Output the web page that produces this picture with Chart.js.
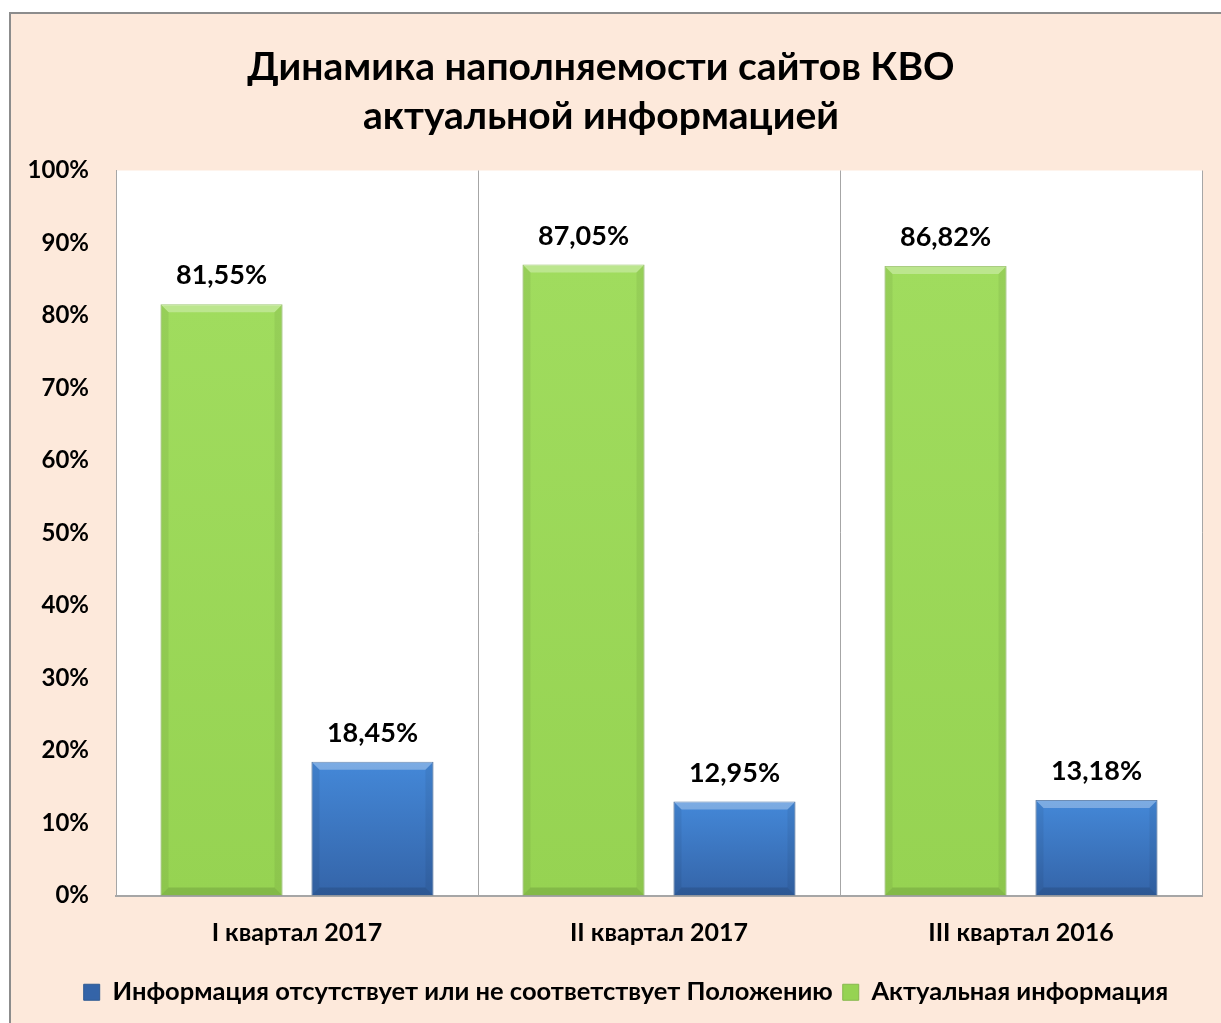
<!DOCTYPE html>
<html>
<head>
<meta charset="utf-8">
<script src="https://cdn.jsdelivr.net/npm/chart.js@4.4.0/dist/chart.umd.min.js"></script>
<style>
  html, body { margin: 0; padding: 0; background: #fff; overflow: hidden; }
  #wrap { width: 1221px; height: 1023px; }
</style>
</head>
<body>
<div id="wrap"><canvas id="chart" width="1221" height="1023"></canvas></div>
<script>
const quarters = ['I квартал 2017', 'II квартал 2017', 'III квартал 2016'];
const actualInfo = [81.55, 87.05, 86.82];
const missingInfo = [18.45, 12.95, 13.18];
const titleLines = ['Динамика наполняемости сайтов КВО', 'актуальной информацией'];
const fontFamily = 'Lato, "Open Sans", "DejaVu Sans", sans-serif';

const $ctx = document.getElementById('chart').getContext('2d');

// gradient per bar, from its top to the zero line
function vGradient(top, bottom) {
  return function (c) {
    const yScale = c.chart.scales && c.chart.scales.y;
    if (!yScale || c.raw === undefined) return top;
    const y0 = yScale.getPixelForValue(c.raw);
    const y1 = yScale.getPixelForValue(0);
    if (!isFinite(y0) || !isFinite(y1) || y0 === y1) return top;
    const g = c.chart.ctx.createLinearGradient(0, y0, 0, y1);
    g.addColorStop(0, top);
    g.addColorStop(1, bottom);
    return g;
  };
}

// peach background, outer frame, white plot area
const backgroundPlugin = {
  id: 'background',
  afterLayout(chart) {
    // legend in the original sits a bit right of centre
    chart.legend.left += 25;
    chart.legend.right += 25;
  },
  beforeDraw(chart) {
    const { ctx, chartArea, width, height } = chart;
    ctx.save();
    ctx.fillStyle = '#ffffff';
    ctx.fillRect(0, 0, width, height);
    ctx.fillStyle = '#fde9db';
    ctx.fillRect(9, 12, width, height);
    ctx.strokeStyle = '#8c8c8c';
    ctx.lineWidth = 2;
    ctx.beginPath();
    ctx.moveTo(10, height);
    ctx.lineTo(10, 13);
    ctx.lineTo(width, 13);
    ctx.stroke();
    ctx.fillStyle = '#ffffff';
    ctx.fillRect(chartArea.left, chartArea.top, chartArea.right - chartArea.left, chartArea.bottom - chartArea.top);
    ctx.restore();
  },
};

// Excel-like bevel on the bars + value labels
const barDecorPlugin = {
  id: 'barDecor',
  afterDatasetsDraw(chart) {
    const { ctx } = chart;
    ctx.save();
    chart.data.datasets.forEach((ds, i) => {
      const meta = chart.getDatasetMeta(i);
      if (meta.hidden) return;
      meta.data.forEach((bar, j) => {
        const left = bar.x - bar.width / 2;
        const right = bar.x + bar.width / 2;
        const top = bar.y;
        const bottom = bar.base;
        const b = 8;
        ctx.fillStyle = 'rgba(255,255,255,0.3)';
        ctx.beginPath();
        ctx.moveTo(left, top);
        ctx.lineTo(right, top);
        ctx.lineTo(right - b, top + b);
        ctx.lineTo(left + b, top + b);
        ctx.closePath();
        ctx.fill();
        ctx.fillStyle = 'rgba(0,0,0,0.12)';
        ctx.beginPath();
        ctx.moveTo(left, bottom);
        ctx.lineTo(right, bottom);
        ctx.lineTo(right - b, bottom - b);
        ctx.lineTo(left + b, bottom - b);
        ctx.closePath();
        ctx.fill();
        ctx.fillStyle = 'rgba(0,0,0,0.06)';
        ctx.beginPath();
        ctx.moveTo(left, top);
        ctx.lineTo(left + b, top + b);
        ctx.lineTo(left + b, bottom - b);
        ctx.lineTo(left, bottom);
        ctx.closePath();
        ctx.fill();
        ctx.beginPath();
        ctx.moveTo(right, top);
        ctx.lineTo(right - b, top + b);
        ctx.lineTo(right - b, bottom - b);
        ctx.lineTo(right, bottom);
        ctx.closePath();
        ctx.fill();

        const value = ds.data[j];
        ctx.fillStyle = '#000';
        ctx.font = 'bold 27px ' + fontFamily;
        ctx.textAlign = 'center';
        ctx.textBaseline = 'bottom';
        ctx.fillText(value.toFixed(2).replace('.', ',') + '%', bar.x, top - 15);
      });
    });
    ctx.restore();
  },
};

const chart = new Chart($ctx, {
  type: 'bar',
  data: {
    labels: quarters,
    datasets: [
      {
        label: 'Актуальная информация',
        data: actualInfo,
        backgroundColor: vGradient('#a0dc5e', '#96d352'),
        borderColor: '#86b84c',
        borderWidth: 1,
        categoryPercentage: 0.834,
        barPercentage: 0.808,
      },
      {
        label: 'Информация отсутствует или не соответствует Положению',
        data: missingInfo,
        backgroundColor: vGradient('#4488d8', '#3464a8'),
        borderColor: '#2f5b93',
        borderWidth: 1,
        categoryPercentage: 0.834,
        barPercentage: 0.808,
      },
    ],
  },
  options: {
    responsive: false,
    animation: false,
    layout: {
      padding: { left: 0, right: 19, top: 43, bottom: 8 },
    },
    scales: {
      x: {
        grid: {
          display: true,
          color: '#a6a6a6',
          lineWidth: 1,
          drawTicks: false,
        },
        border: { display: true, color: '#a6a6a6', width: 2 },
        ticks: {
          color: '#000',
          padding: 22,
          font: { family: fontFamily, size: 25, weight: 'bold' },
        },
      },
      y: {
        min: 0,
        max: 100,
        afterFit(scale) {
          scale.width = 116;
        },
        grid: { display: false, drawTicks: false },
        border: { display: true, color: '#a6a6a6', width: 1 },
        ticks: {
          stepSize: 10,
          color: '#000',
          padding: 27,
          font: { family: fontFamily, size: 24, weight: 'bold' },
          callback: v => v + '%',
        },
      },
    },
    plugins: {
      title: {
        display: true,
        text: titleLines,
        color: '#000',
        font: { family: fontFamily, size: 39, weight: 'bold', lineHeight: 1.25 },
        padding: { top: 0, bottom: 30 },
      },
      legend: {
        display: true,
        position: 'bottom',
        reverse: true,
        labels: {
          color: '#000',
          boxWidth: 16,
          boxHeight: 16,
          padding: 10,
          font: { family: fontFamily, size: 25.5, weight: 'bold' },
        },
      },
      tooltip: { enabled: false },
    },
  },
  plugins: [backgroundPlugin, barDecorPlugin],
});
</script>
</body>
</html>
